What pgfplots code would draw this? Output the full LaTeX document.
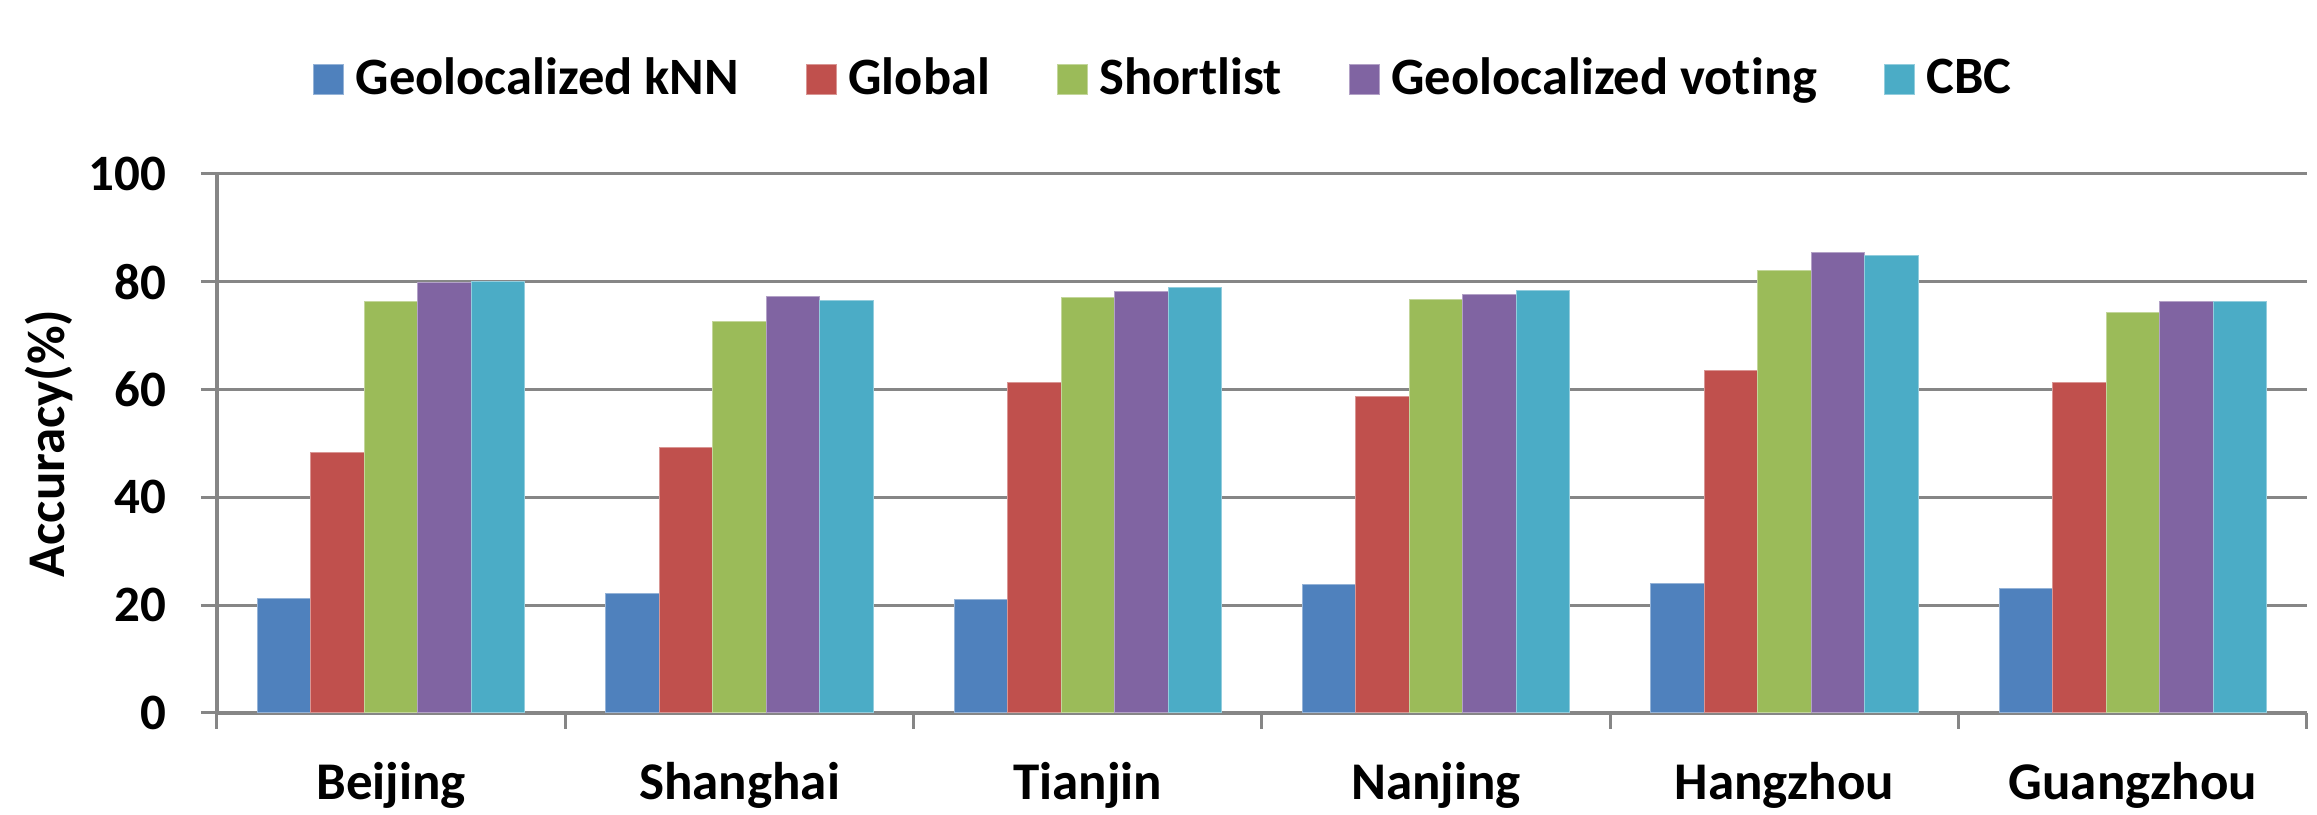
\documentclass[border=0pt]{standalone}
\usepackage{fontspec}
\setmainfont{Carlito}[Ligatures={NoCommon}]
\usepackage{pgfplots}
\pgfplotsset{compat=1.18}

\definecolor{cA}{HTML}{4F81BD}
\definecolor{cB}{HTML}{C0504D}
\definecolor{cC}{HTML}{9BBB59}
\definecolor{cD}{HTML}{8064A2}
\definecolor{cE}{HTML}{4BACC6}
\definecolor{gridgray}{RGB}{134,134,134}

\begin{document}
\begin{tikzpicture}
\begin{axis}[
    width=418pt, height=107.8pt,
    scale only axis,
    ybar=0pt,
    bar width=0.1536,
    xmin=-0.5, xmax=5.5,
    ymin=0, ymax=100,
    enlargelimits=false,
    axis x line*=bottom,
    axis y line*=left,
    axis line style={draw=gridgray, line width=0.7pt},
    tick align=outside,
    xtick={0,1,2,3,4,5},
    xticklabels={Beijing,Shanghai,Tianjin,Nanjing,Hangzhou,Guangzhou},
    minor xtick={-0.5,0.5,...,5.5},
    major x tick style={draw=none},
    minor x tick style={draw=gridgray, line width=0.6pt},
    minor tick length=3.2pt,
    major tick length=3.2pt,
    ytick={0,20,...,100},
    y tick style={draw=gridgray, line width=0.6pt},
    ymajorgrids,
    grid style={draw=gridgray, line width=0.6pt},
    /pgf/number format/assume math mode=true,
    tick label style={font=\bfseries\fontsize{10.2}{12}\selectfont},
    xticklabel style={yshift=-3.2pt, font=\bfseries\fontsize{10.6}{12}\selectfont},
    yticklabel style={xshift=-3.4pt},
    ylabel={Accuracy(\%)},
    every axis y label/.style={at={(rel axis cs:0,0.5)}, xshift=-33.6pt,
        rotate=90, anchor=center, font=\bfseries\fontsize{10.6}{12}\selectfont},
    legend columns=-1,
    legend style={at={(rel axis cs:0.454,1)}, anchor=center, yshift=18.8pt,
        draw=none, fill=none, font=\bfseries\fontsize{10.5}{12}\selectfont,
        /tikz/every even column/.append style={column sep=12pt},
        /tikz/every odd column/.append style={column sep=0.9pt},
        nodes={inner sep=1.4pt}},
    legend image code/.code={\fill[#1] (0pt,-3pt) rectangle (6pt,3pt);},
    every axis plot/.append style={line width=0.2pt},
]
\addplot[fill=cA, draw=cA!60!white] coordinates {(0,21.2) (1,22.2) (2,21.0) (3,23.9) (4,24.1) (5,23.1)};
\addlegendentry{Geolocalized kNN}
\addplot[fill=cB, draw=cB!60!white] coordinates {(0,48.3) (1,49.3) (2,61.4) (3,58.7) (4,63.5) (5,61.3)};
\addlegendentry{Global}
\addplot[fill=cC, draw=cC!60!white] coordinates {(0,76.4) (1,72.6) (2,77.1) (3,76.7) (4,82.1) (5,74.3)};
\addlegendentry{Shortlist}
\addplot[fill=cD, draw=cD!60!white] coordinates {(0,79.8) (1,77.3) (2,78.2) (3,77.6) (4,85.4) (5,76.3)};
\addlegendentry{Geolocalized voting}
\addplot[fill=cE, draw=cE!60!white] coordinates {(0,80.0) (1,76.6) (2,78.9) (3,78.3) (4,84.8) (5,76.4)};
\addlegendentry{CBC}
\end{axis}
\pgfresetboundingbox
\path[use as bounding box] (-43.4pt,-20.4pt) rectangle (420pt,142.6pt);
\end{tikzpicture}
\end{document}
